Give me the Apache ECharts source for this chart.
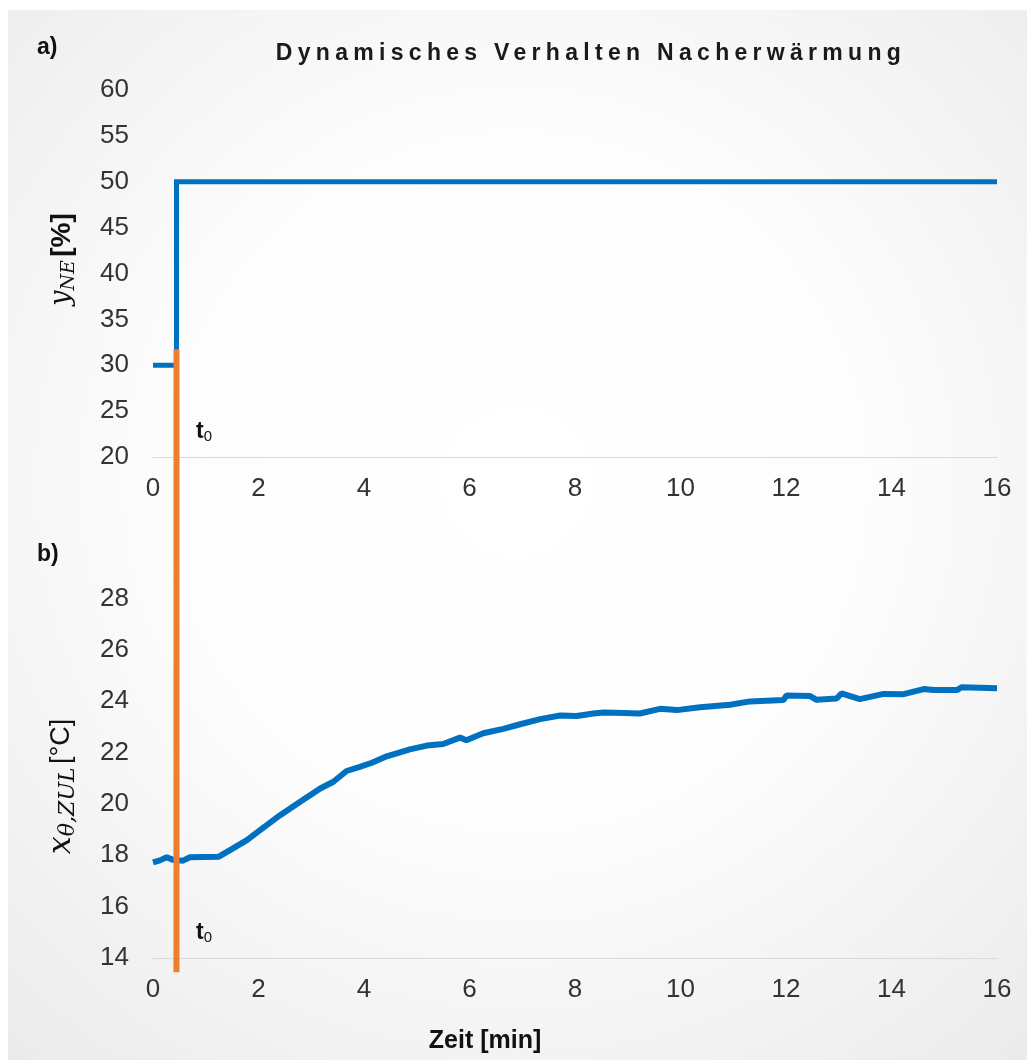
<!DOCTYPE html>
<html>
<head>
<meta charset="utf-8">
<script src="https://cdn.jsdelivr.net/npm/echarts@6/dist/echarts.min.js"></script>
<style>
  html, body { margin: 0; padding: 0; background: #ffffff; }
  #wrap { position: relative; width: 1027px; height: 1060px; }
  #chart { position: absolute; left: 0; top: 0; width: 1027px; height: 1060px; }
  #title { position: absolute; top: 38px; left: 591px; transform: translateX(-50%);
           font-family: "Liberation Sans", Arial, sans-serif; font-weight: bold; font-size: 23px;
           letter-spacing: 5.3px; color: #1a1a1a; white-space: nowrap; line-height: 28px; }
</style>
</head>
<body>
<div id="wrap">
  <div id="chart"></div>
  <div id="title">Dynamisches Verhalten Nacherwärmung</div>
</div>
<script>
// ---- Data ----
// Panel a) control signal y_NE [%]
const timeA = [0, 0.445, 0.445, 16];
const yNE = [30, 30, 50, 50];
// Panel b) supply air temperature [°C]
const timeB = [0, 0.13, 0.26, 0.38, 0.57, 0.7, 1.24, 1.46, 1.78, 2.03, 2.41, 2.79, 3.17, 3.42, 3.67, 3.92, 4.15, 4.43, 4.87, 5.19, 5.5, 5.82, 5.94, 6.26, 6.64, 6.96, 7.34, 7.72, 8.03, 8.35, 8.54, 8.92, 9.23, 9.61, 9.93, 10.37, 10.94, 11.32, 11.95, 12.01, 12.45, 12.58, 12.96, 13.05, 13.4, 13.85, 14.23, 14.61, 14.8, 15.24, 15.33, 16];
const xZUL = [17.72, 17.8, 17.92, 17.82, 17.79, 17.92, 17.94, 18.2, 18.59, 18.98, 19.56, 20.08, 20.6, 20.86, 21.28, 21.44, 21.6, 21.85, 22.12, 22.27, 22.33, 22.58, 22.48, 22.75, 22.92, 23.1, 23.3, 23.44, 23.42, 23.52, 23.56, 23.54, 23.52, 23.7, 23.65, 23.76, 23.86, 23.99, 24.04, 24.22, 24.2, 24.05, 24.1, 24.3, 24.08, 24.28, 24.27, 24.47, 24.43, 24.43, 24.54, 24.5];
// t0 marker (drawn on panel b scale, extends upward into panel a)
const t0Time = [0.445, 0.445];
const t0Span = [37.7, 13.45];
// Axis ticks
const xTicks = { min: 0, max: 16, interval: 2 };
const yTicksA = { min: 20, max: 60, interval: 5 };
const yTicksB = { min: 14, max: 30, interval: 2 };

const zip = (a, b) => a.map((v, i) => [v, b[i]]);

const FONT = '"Liberation Sans", Arial, sans-serif';
const MATH = '"DejaVu Serif", serif';
const BLUE = '#0070C0';
const ORANGE = '#ED7D31';
const LABEL = { fontSize: 26, color: '#333333', fontFamily: FONT };

const chart = echarts.init(document.getElementById('chart'), null, { renderer: 'canvas' });

function xAxisCfg(gi) {
  return {
    gridIndex: gi, type: 'value', min: xTicks.min, max: xTicks.max, interval: xTicks.interval,
    axisLine: { show: true, onZero: false, lineStyle: { color: '#d9d9d9', width: 1 } },
    axisTick: { show: false }, splitLine: { show: false },
    axisLabel: Object.assign({ margin: 19 }, LABEL)
  };
}

const nameRich = (vSize, sSize, uSize, unitBold) => ({
  v: { fontFamily: MATH, fontStyle: 'italic', fontSize: vSize, color: '#111', lineHeight: 34, verticalAlign: 'middle' },
  s: { fontFamily: MATH, fontStyle: 'italic', fontSize: sSize, color: '#111', lineHeight: 16, verticalAlign: 'bottom' },
  u: { fontFamily: FONT, fontWeight: unitBold ? 'bold' : 'normal', fontSize: uSize, color: '#111', lineHeight: 34, verticalAlign: 'middle' }
});

const option = {
  backgroundColor: '#ffffff',
  animation: false,
  graphic: [
    { type: 'rect', z: -100, silent: true, shape: { x: 8, y: 10, width: 1019, height: 1050 },
      style: { fill: new echarts.graphic.RadialGradient(0.5, 0.45, 0.75, [
        { offset: 0, color: '#ffffff' }, { offset: 0.45, color: '#fdfdfd' }, { offset: 1, color: '#ebebeb' }]) } },
    { type: 'text', left: 37, top: 36, style: { text: 'a)', font: 'bold 23px ' + FONT, fill: '#111' } },
    { type: 'text', left: 37, top: 543, style: { text: 'b)', font: 'bold 23px ' + FONT, fill: '#111' } },
    { type: 'text', x: 196, y: 432, style: { text: '{t|t}{s|0}', verticalAlign: 'middle',
      rich: { t: { font: 'bold 23px ' + FONT, fill: '#111', lineHeight: 24, verticalAlign: 'middle' },
              s: { font: '15px ' + FONT, fill: '#111', lineHeight: 12, verticalAlign: 'bottom' } } } },
    { type: 'text', x: 196, y: 933, style: { text: '{t|t}{s|0}', verticalAlign: 'middle',
      rich: { t: { font: 'bold 23px ' + FONT, fill: '#111', lineHeight: 24, verticalAlign: 'middle' },
              s: { font: '15px ' + FONT, fill: '#111', lineHeight: 12, verticalAlign: 'bottom' } } } },
    { type: 'text', x: 485, y: 1041, style: { text: 'Zeit [min]', font: 'bold 25px ' + FONT, fill: '#111',
      align: 'center', verticalAlign: 'middle' } }
  ],
  grid: [
    { left: 153, right: 30, top: 90, height: 367 },
    { left: 153, right: 30, top: 547, height: 411 }
  ],
  xAxis: [xAxisCfg(0), xAxisCfg(1)],
  yAxis: [
    { gridIndex: 0, type: 'value', min: yTicksA.min, max: yTicksA.max, interval: yTicksA.interval,
      axisLine: { show: false }, axisTick: { show: false }, splitLine: { show: false },
      axisLabel: Object.assign({ margin: 24 }, LABEL),
      name: '{v|y}{s|NE} {u|[%]}', nameLocation: 'middle', nameRotate: 90, nameGap: 74,
      nameTextStyle: { padding: [0, 0, 0, 28], rich: nameRich(27, 19, 28, true) } },
    { gridIndex: 1, type: 'value', min: yTicksB.min, max: yTicksB.max, interval: yTicksB.interval,
      axisLine: { show: false }, axisTick: { show: false }, splitLine: { show: false },
      axisLabel: Object.assign({ margin: 24, formatter: v => (v === yTicksB.max ? '' : String(v)) }, LABEL),
      name: '{v|x}{s|θ,ZUL} {u|[°C]}', nameLocation: 'middle', nameRotate: 90, nameGap: 74,
      nameTextStyle: { padding: [0, 68, 0, 0], rich: nameRich(32, 22, 27, false) } }
  ],
  series: [
    { type: 'line', xAxisIndex: 0, yAxisIndex: 0, data: zip(timeA, yNE), showSymbol: false,
      lineStyle: { color: BLUE, width: 5, join: 'miter' } },
    { type: 'line', xAxisIndex: 1, yAxisIndex: 1, data: zip(timeB, xZUL), showSymbol: false,
      lineStyle: { color: BLUE, width: 6 } },
    { type: 'line', xAxisIndex: 1, yAxisIndex: 1, data: zip(t0Time, t0Span), showSymbol: false, clip: false,
      lineStyle: { color: ORANGE, width: 6, cap: 'butt' } }
  ]
};
chart.setOption(option);
</script>
</body>
</html>
